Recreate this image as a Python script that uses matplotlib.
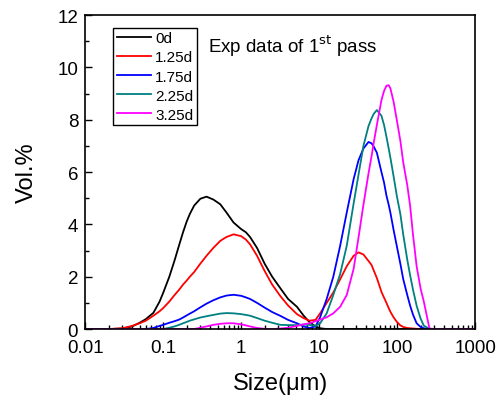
import numpy as np
import matplotlib
matplotlib.use("Agg")
import matplotlib.pyplot as plt
from matplotlib.ticker import LogLocator, MultipleLocator, FixedLocator, FixedFormatter, NullFormatter

plt.rcParams['font.family'] = ['Liberation Sans', 'DejaVu Sans']

sizes = [0.01, 0.02, 0.03, 0.04, 0.05, 0.06, 0.075, 0.09, 0.1, 0.12, 0.14, 0.16, 0.18, 0.2,
         0.22, 0.25, 0.3, 0.36, 0.44, 0.54, 0.65, 0.8, 1.0, 1.15, 1.3, 1.6, 2.0, 2.5, 3.2, 4.0,
         5.2, 6.3, 7.5, 9.0, 10.3, 12.5, 15.2, 18.6, 22.6, 27.7, 32, 37, 43, 47, 50, 55, 63, 68,
         73, 78, 82, 90, 99, 110, 120, 135, 147, 160, 178, 200, 220, 260, 300, 1000]

vol_0d = [0, 0, 0.02, 0.1, 0.24, 0.38, 0.62, 1.05, 1.38, 2.0, 2.62, 3.2, 3.7, 4.1,
          4.4, 4.72, 4.98, 5.06, 4.95, 4.77, 4.45, 4.07, 3.82, 3.7, 3.52, 3.1, 2.5, 2.0, 1.55, 1.15,
          0.85, 0.52, 0.27, 0.1, 0.03, 0, 0, 0, 0, 0, 0, 0, 0, 0, 0, 0, 0, 0,
          0, 0, 0, 0, 0, 0, 0, 0, 0, 0, 0, 0, 0, 0, 0, 0]

vol_125d = [0, 0, 0.03, 0.12, 0.22, 0.32, 0.51, 0.68, 0.8, 1.05, 1.3, 1.5, 1.7, 1.85,
            2.0, 2.18, 2.5, 2.8, 3.1, 3.37, 3.52, 3.62, 3.55, 3.42, 3.24, 2.8, 2.22, 1.7, 1.25, 0.9,
            0.57, 0.42, 0.32, 0.35, 0.6, 1.0, 1.4, 1.9, 2.4, 2.8, 2.93, 2.85, 2.6, 2.45, 2.25, 1.95, 1.42, 1.2,
            1.0, 0.8, 0.66, 0.45, 0.28, 0.14, 0.08, 0.04, 0.03, 0.02, 0.01, 0, 0, 0, 0, 0]

vol_175d = [0, 0, 0, 0, 0, 0, 0.04, 0.12, 0.16, 0.24, 0.3, 0.36, 0.44, 0.52,
            0.59, 0.68, 0.83, 0.97, 1.1, 1.21, 1.28, 1.31, 1.27, 1.21, 1.15, 1.0, 0.82, 0.65, 0.5, 0.35,
            0.22, 0.1, 0.04, 0.1, 0.45, 1.15, 2.0, 3.18, 4.45, 5.73, 6.45, 6.9, 7.15, 7.1, 6.98, 6.74, 6.0, 5.6,
            5.1, 4.75, 4.45, 3.8, 3.18, 2.5, 1.9, 1.3, 0.89, 0.55, 0.22, 0.08, 0.03, 0, 0, 0]

vol_225d = [0, 0, 0, 0, 0, 0, 0, 0, 0, 0.05, 0.1, 0.16, 0.22, 0.27,
            0.32, 0.37, 0.44, 0.49, 0.54, 0.59, 0.61, 0.6, 0.57, 0.54, 0.51, 0.42, 0.32, 0.24, 0.16, 0.15,
            0.15, 0.17, 0.16, 0.12, 0.22, 0.6, 1.3, 2.1, 3.18, 4.8, 5.9, 7.0, 7.76, 8.05, 8.22, 8.37, 8.15, 7.8,
            7.35, 6.9, 6.55, 5.85, 5.1, 4.4, 3.6, 2.65, 2.05, 1.5, 0.89, 0.4, 0.13, 0.01, 0, 0]

vol_325d = [0, 0, 0, 0, 0, 0, 0, 0, 0, 0, 0, 0, 0, 0,
            0, 0, 0.05, 0.1, 0.16, 0.2, 0.22, 0.22, 0.18, 0.14, 0.1, 0.04, 0.01, 0, 0.02, 0.05,
            0.12, 0.18, 0.22, 0.3, 0.36, 0.45, 0.6, 0.85, 1.3, 2.3, 3.5, 4.75, 5.95, 6.6, 7.1, 7.8, 8.75, 9.1,
            9.3, 9.32, 9.2, 8.7, 8.0, 7.2, 6.36, 5.5, 4.7, 3.6, 2.4, 1.55, 1.05, 0.02, 0, 0]

labels = ['0d', '1.25d', '1.75d', '2.25d', '3.25d']
colors = ['#000000', '#ff0000', '#0000ff', '#008080', '#ff00ff']
series = [vol_0d, vol_125d, vol_175d, vol_225d, vol_325d]

xticks = [0.01, 0.1, 1, 10, 100, 1000]
xticklabels = ['0.01', '0.1', '1', '10', '100', '1000']
yticks = [0, 2, 4, 6, 8, 10, 12]

fig = plt.figure(figsize=(4.98, 4.02), dpi=100)
ax = fig.add_axes([0.171, 0.179, 0.783, 0.781])

for vals, lab, col in zip(series, labels, colors):
    ax.plot(sizes, vals, color=col, lw=1.3, label=lab)

ax.set_xscale('log')
ax.set_xlim(0.01, 1000)
ax.set_ylim(0, 12)
ax.xaxis.set_major_locator(FixedLocator(xticks))
ax.xaxis.set_major_formatter(FixedFormatter(xticklabels))
ax.xaxis.set_minor_locator(LogLocator(base=10, subs=np.arange(2, 10)))
ax.xaxis.set_minor_formatter(NullFormatter())
ax.yaxis.set_major_locator(FixedLocator(yticks))
ax.yaxis.set_minor_locator(MultipleLocator(1))
ax.tick_params(which='both', direction='in', top=False, right=False, labelsize=13.5)
ax.tick_params(axis='x', pad=7)
ax.tick_params(axis='y', pad=5)
ax.tick_params(which='major', length=5, width=1)
ax.tick_params(which='minor', length=3, width=1)
for s in ax.spines.values():
    s.set_linewidth(1.2)

ax.set_xlabel('Size(μm)', fontsize=17, labelpad=12)
ax.set_ylabel('Vol.%', fontsize=17, labelpad=14)

leg = ax.legend(loc='upper left', bbox_to_anchor=(0.072, 0.96), fontsize=11,
                frameon=True, fancybox=False, edgecolor='black', framealpha=1,
                handlelength=2.2, handletextpad=0.3, labelspacing=0.33,
                borderpad=0.25, borderaxespad=0)
leg.get_frame().set_linewidth(1.0)

ax.text(0.315, 0.905, 'Exp data of 1$^{\\mathrm{st}}$ pass', transform=ax.transAxes,
        fontsize=13.5, ha='left', va='center')

fig.savefig('out.png', dpi=100)
